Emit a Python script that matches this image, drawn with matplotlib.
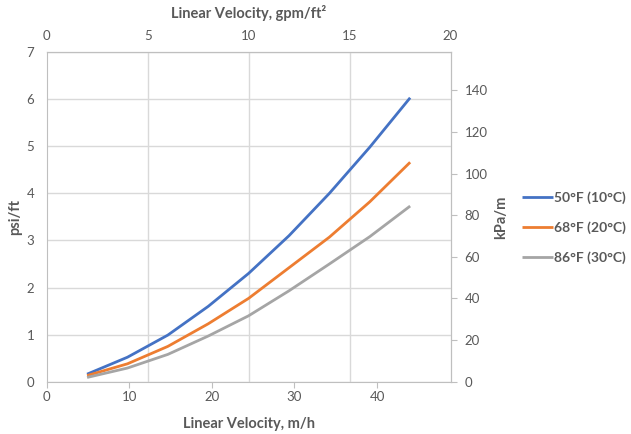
import matplotlib
matplotlib.use("Agg")
import matplotlib.pyplot as plt
from matplotlib.ticker import FixedLocator
import numpy as np

# data (psi/ft at every 2 gpm/ft2)
gpm = np.array([2, 4, 6, 8, 10, 12, 14, 16, 18])
psi_50F = [0.16, 0.52, 0.99, 1.60, 2.30, 3.10, 4.00, 4.98, 6.03]
psi_68F = [0.13, 0.38, 0.75, 1.23, 1.77, 2.42, 3.07, 3.82, 4.66]
psi_86F = [0.09, 0.29, 0.58, 0.97, 1.40, 1.93, 2.50, 3.08, 3.73]
labels = ["50°F (10°C)", "68°F (20°C)", "86°F (30°C)"]
colors = ["#4472C4", "#ED7D31", "#A5A5A5"]

GPM_TO_MH = 2.445      # 1 gpm/ft2 = 2.445 m/h
PSI_TO_KPA = 22.62     # 1 psi/ft = 22.62 kPa/m

plt.rcParams["font.family"] = ["Lato", "DejaVu Sans"]
txt = "#595959"
edge = "#BFBFBF"
grid = "#D9D9D9"

fig = plt.figure(figsize=(6.31, 4.34), dpi=100)
ax = fig.add_axes([0.074, 0.1205, 0.640, 0.7595])

mh = gpm * GPM_TO_MH
for ys, lab, c in zip([psi_50F, psi_68F, psi_86F], labels, colors):
    ax.plot(mh, ys, color=c, lw=2.0, label=lab, solid_capstyle="butt")

ax.set_xlim(0, 20 * GPM_TO_MH)
ax.set_ylim(0, 7)
ax.set_xticks([0, 10, 20, 30, 40])
ax.set_yticks(range(0, 8))

# vertical gridlines follow the gpm/ft2 ticks on top
ax.xaxis.set_minor_locator(FixedLocator(np.array([5, 10, 15]) * GPM_TO_MH))
ax.grid(which="minor", axis="x", color=grid, lw=1)
ax.grid(which="major", axis="y", color=grid, lw=1)
ax.set_axisbelow(True)

for s in ax.spines.values():
    s.set_color(edge)
ax.tick_params(axis="x", which="major", direction="out", length=4, color=edge,
               labelcolor=txt, labelsize=9.5, pad=3)
ax.tick_params(axis="x", which="minor", length=0)
ax.tick_params(axis="y", length=0, labelcolor=txt, labelsize=9.5, pad=9)

ax.set_xlabel("Linear Velocity, m/h", fontsize=10.5, fontweight="bold", color=txt, labelpad=10)
ax.set_ylabel("psi/ft", fontsize=10.5, fontweight="bold", color=txt, labelpad=3)

top = ax.secondary_xaxis("top", functions=(lambda x: x / GPM_TO_MH, lambda x: x * GPM_TO_MH))
top.set_xticks([0, 5, 10, 15, 20])
top.tick_params(length=0, labelcolor=txt, labelsize=9.5, pad=7)
top.spines["top"].set_color(edge)
top.set_xlabel("Linear Velocity, gpm/ft²", fontsize=10.5, fontweight="bold", color=txt, labelpad=9)

right = ax.secondary_yaxis("right", functions=(lambda y: y * PSI_TO_KPA, lambda y: y / PSI_TO_KPA))
right.set_yticks(range(0, 141, 20))
right.tick_params(direction="out", length=4, color=edge, labelcolor=txt, labelsize=9.5, pad=6)
right.spines["right"].set_color(edge)
right.set_ylabel("kPa/m", fontsize=10.5, fontweight="bold", color=txt, labelpad=5)

leg = fig.legend(loc="center left", bbox_to_anchor=(0.828, 0.475), frameon=False,
                 borderpad=0, borderaxespad=0, handlelength=2.2, handletextpad=0.1,
                 labelspacing=1.25, prop={"weight": "bold", "size": 10})
for t in leg.get_texts():
    t.set_color(txt)

fig.savefig("out.png", dpi=100)
